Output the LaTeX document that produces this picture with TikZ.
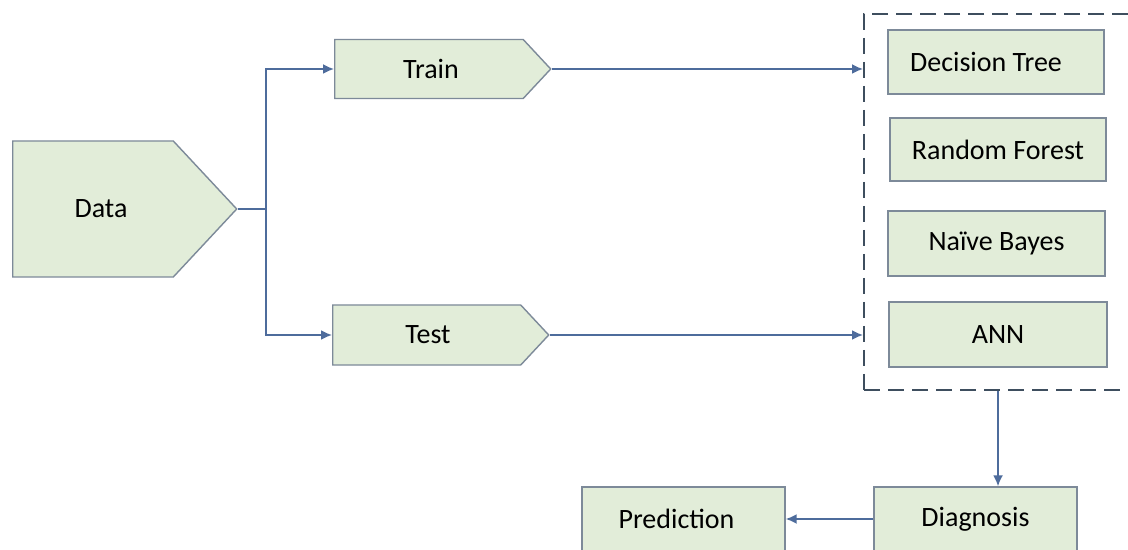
\documentclass[tikz,border=0pt]{standalone}
\usepackage{fontspec}
\setmainfont{Carlito}
\usetikzlibrary{shapes.symbols,arrows.meta}

\definecolor{boxfill}{HTML}{E2EDD9}
\definecolor{boxline}{HTML}{7D8A99}
\definecolor{linkblue}{HTML}{4E6C9C}
\definecolor{frameline}{HTML}{3E4E5E}

\begin{document}
\begin{tikzpicture}[x=0.5pt,y=-0.5pt,
  font=\fontsize{14}{17}\selectfont,
  box/.style={draw=boxline,fill=boxfill,line width=.7pt,inner sep=0pt},
  tag/.style={box,signal,signal to=east,signal pointer angle=94},
  link/.style={draw=linkblue,line width=.9pt,>={Latex[length=5.5pt,width=5pt]}}]
\clip (0,0) rectangle (1128,550);
\useasboundingbox (0,0) rectangle (1128,550);
\fill[white] (0,0) rectangle (1128,550);

\node[tag,anchor=west,minimum width=112pt,minimum height=68pt] (data) at (12,209) {};
\node at (101,209) {Data};
\node[tag,anchor=west,minimum width=108pt,minimum height=29.5pt] (train) at (334,69) {};
\node at (431,69) {Train};
\node[tag,anchor=west,minimum width=108pt,minimum height=30pt] (test) at (332,335) {};
\node at (428,335) {Test};

\node[draw=frameline,line width=1pt,dash pattern=on 8pt off 4pt,anchor=north west,
  minimum width=140pt,minimum height=188pt,inner sep=0pt] (models) at (863,13) {};

\node[box,minimum width=108pt,minimum height=32pt] (dt) at (996,62) {};
\node at (986,62) {Decision Tree};
\node[box,minimum width=108pt,minimum height=31.5pt] (rf) at (998,149.5) {Random Forest};
\node[box,minimum width=108.5pt,minimum height=32.5pt] (nb) at (996.5,243.5) {Naïve Bayes};
\node[box,minimum width=109pt,minimum height=32.5pt] (ann) at (998,334.5) {ANN};

\node[box,minimum width=101.5pt,minimum height=32pt] (diag) at (975.5,519) {Diagnosis};
\node[box,minimum width=101.5pt,minimum height=32pt] (pred) at (683.5,519) {};
\node at (676.5,519) {Prediction};

\coordinate (fork) at (266,209);
\draw[link] (data.east) -- (fork);
\draw[link,->] (fork) |- (train.west);
\draw[link,->] (fork) |- (test.west);
\draw[link,->] (train.east) -- (train.east -| models.west);
\draw[link,->] (test.east) -- (test.east -| models.west);
\draw[link,->] (ann |- models.south) -- (ann |- diag.north);
\draw[link,->] (diag.west) -- (pred.east);
\end{tikzpicture}
\end{document}
